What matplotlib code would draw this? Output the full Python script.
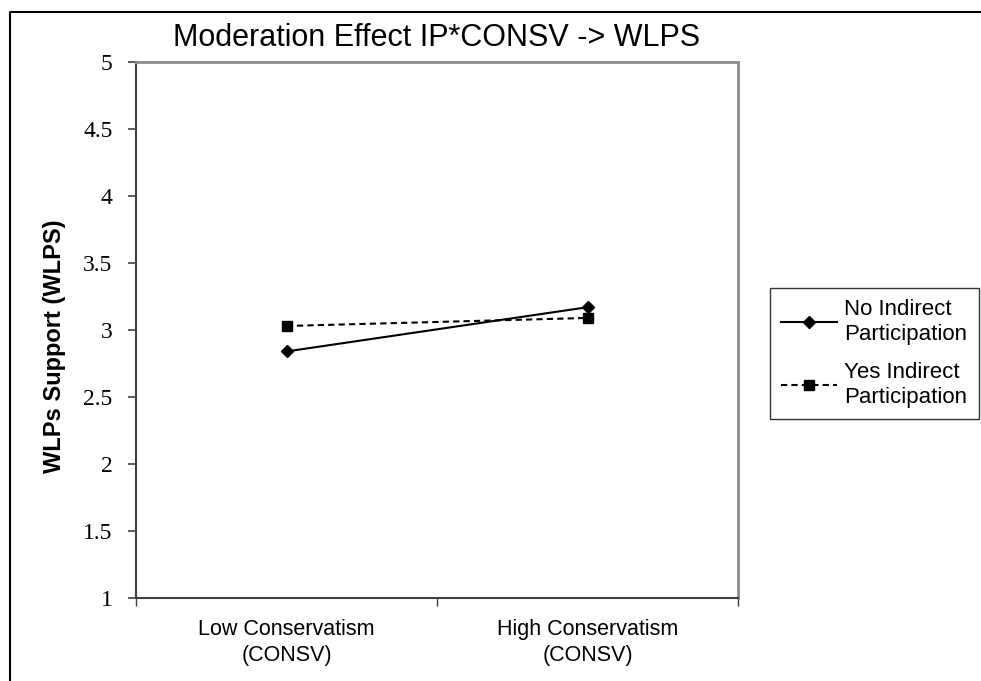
import matplotlib.pyplot as plt
from matplotlib.lines import Line2D

# data
categories = ["Low Conservatism\n(CONSV)", "High Conservatism\n(CONSV)"]
no_ip = [2.84, 3.17]
yes_ip = [3.03, 3.09]
series_names = ["No Indirect\nParticipation", "Yes Indirect\nParticipation"]
y_ticks = [1, 1.5, 2, 2.5, 3, 3.5, 4, 4.5, 5]
y_labels = ["1", "1.5", "2", "2.5", "3", "3.5", "4", "4.5", "5"]

plt.rcParams['font.family'] = ['Liberation Sans', 'DejaVu Sans']

fig = plt.figure(figsize=(9.81, 6.81), dpi=100)
ax = fig.add_axes([136/981, 1 - 598/681, 602/981, 536/681])

x = list(range(len(categories)))
ax.plot(x, no_ip, color='black', lw=1.5, marker='D', markersize=6,
        label=series_names[0])
ax.plot(x, yes_ip, color='black', lw=1.5, ls=(0, (3, 2)), marker='s',
        markersize=7, label=series_names[1])

ax.set_xlim(-0.5, 1.5)
ax.set_ylim(1, 5)

# major ticks between categories, labels on minor ticks at the centers
ax.set_xticks([-0.5, 0.5, 1.5])
ax.set_xticklabels([])
ax.set_xticks(x, minor=True)
ax.set_xticklabels(categories, minor=True, fontsize=15.5, linespacing=1.3)
ax.tick_params(axis='x', which='minor', length=0, pad=15)
ax.tick_params(axis='x', which='major', length=6, direction='out',
               color='#404040', width=1)

ax.set_yticks(y_ticks)
ax.set_yticklabels(y_labels, fontfamily='Liberation Serif', fontsize=17)
ax.tick_params(axis='y', length=6, direction='out', pad=11,
               color='#404040', width=1.2)

ax.spines['left'].set_color('#404040')
ax.spines['bottom'].set_color('#404040')
ax.spines['left'].set_linewidth(1.5)
ax.spines['bottom'].set_linewidth(1.5)
ax.spines['top'].set_color('#8c8c8c')
ax.spines['right'].set_color('#8c8c8c')
ax.spines['top'].set_linewidth(2)
ax.spines['right'].set_linewidth(2)

ax.set_ylabel("WLPs Support (WLPS)", fontsize=17, fontweight='bold')
ax.yaxis.set_label_coords(-0.117, 0.47)
fig.text(437/981, 1 - 38/681, "Moderation Effect IP*CONSV -> WLPS",
         fontsize=22, ha='center', va='center')

leg = fig.legend(loc='upper left', bbox_to_anchor=(770/981, 1 - 288/681),
                 fontsize=16, frameon=True, fancybox=False,
                 edgecolor='black', handlelength=2.5, handletextpad=0.35,
                 labelspacing=0.75, borderpad=0.5, borderaxespad=0)
leg.get_frame().set_linewidth(1)
for t in leg.get_texts():
    t.set_linespacing(1.25)

# outer chart border (top and left only, rest is cut off)
fig.add_artist(Line2D([10/981, 10/981, 1], [0, 1 - 12/681, 1 - 12/681],
                      transform=fig.transFigure, color='black', lw=1.5))

fig.savefig('out.png', dpi=100)
